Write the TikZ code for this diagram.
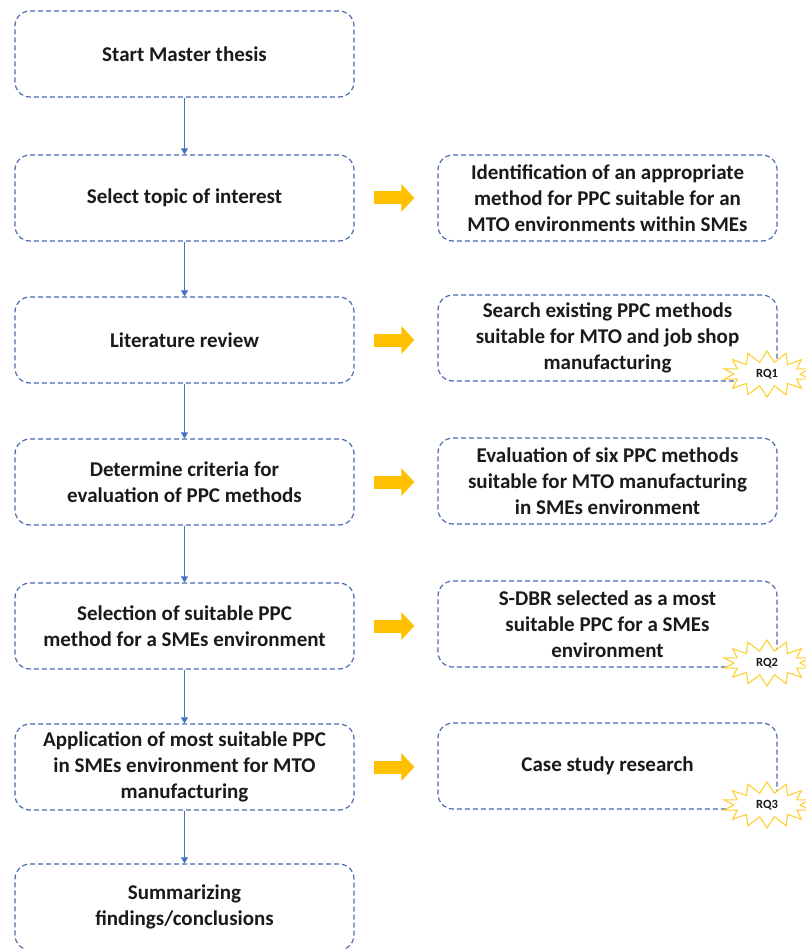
\documentclass[tikz,border=0pt]{standalone}
\usepackage{fontspec}
\setmainfont{Carlito}
\usetikzlibrary{shapes.symbols,arrows.meta}
\definecolor{boxblue}{HTML}{4A6BAE}
\definecolor{flowblue}{HTML}{4472C4}
\definecolor{amber}{HTML}{FFC000}
\definecolor{burst}{HTML}{FFD033}
\definecolor{ink}{HTML}{1A1A1A}
\tikzset{
  stepbox/.style={draw=boxblue, line width=1.2pt, dash pattern=on 5pt off 3pt,
    rounded corners=15pt, minimum width=339pt, minimum height=86pt,
    align=center, text=ink, font=\fontsize{21}{26}\selectfont\bfseries},
  flow/.style={draw=flowblue, line width=1.1pt, -{Triangle[width=7pt,length=6pt]}},
  bigarrow/.style={draw=amber, line width=13pt,
    -{Triangle[width=27pt,length=13pt]}, shorten <=19pt, shorten >=23pt},
  rq/.style={starburst, starburst points=14, random starburst=0,
    starburst point height=11pt, draw=burst, line width=1.1pt, fill=white,
    minimum width=88pt, minimum height=46pt, inner sep=0pt, text=ink,
    font=\fontsize{12.5}{13}\selectfont\bfseries}
}
\begin{document}
\begin{tikzpicture}[x=1pt,y=-1pt]
\useasboundingbox (0,0) rectangle (805,949);
% process steps on the left
\node[stepbox] (L1) at (184.5,54)  {Start Master thesis};
\node[stepbox] (L2) at (184.5,198) {Select topic of interest};
\node[stepbox] (L3) at (184.5,340) {Literature review};
\node[stepbox] (L4) at (184.5,482) {Determine criteria for\\evaluation of PPC methods};
\node[stepbox] (L5) at (184.5,626) {Selection of suitable PPC\\method for a SMEs environment};
\node[stepbox] (L6) at (184.5,767) {Application of most suitable PPC\\in SMEs environment for MTO\\manufacturing};
\node[stepbox] (L7) at (184.5,907) {Summarizing\\findings/conclusions};
% outcomes on the right
\node[stepbox] (R2) at (607.5,198) {Identification of an appropriate\\method for PPC suitable for an\\MTO environments within SMEs};
\node[stepbox] (R3) at (607.5,338) {Search existing PPC methods\\suitable for MTO and job shop\\manufacturing};
\node[stepbox] (R4) at (607.5,481) {Evaluation of six PPC methods\\suitable for MTO manufacturing\\in SMEs environment};
\node[stepbox] (R5) at (607.5,624) {S-DBR selected as a most\\suitable PPC for a SMEs\\environment};
\node[stepbox] (R6) at (607.5,766) {Case study research};
% main flow
\draw[flow] (L1) -- (L2);
\draw[flow] (L2) -- (L3);
\draw[flow] (L3) -- (L4);
\draw[flow] (L4) -- (L5);
\draw[flow] (L5) -- (L6);
\draw[flow] (L6) -- (L7);
% step to outcome
\foreach \a/\b in {L2/R2,L3/R3,L4/R4,L5/R5,L6/R6}
  \draw[bigarrow] (\a.east) -- (\a.east -| \b.west);
% research questions
\node[rq] (Q1) at (767,374) {RQ1};
\node[rq] (Q2) at (767,663) {RQ2};
\node[rq] (Q3) at (767,805) {RQ3};
\end{tikzpicture}
\end{document}
